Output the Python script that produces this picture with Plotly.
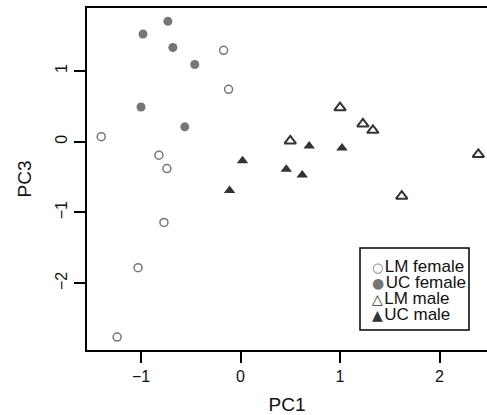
import plotly.graph_objects as go

# ---- data ----
lm_female_pc1 = [-0.17, -0.12, -1.40, -0.82, -0.74, -0.77, -1.03, -1.24]
lm_female_pc3 = [1.29, 0.74, 0.07, -0.19, -0.38, -1.14, -1.78, -2.76]
uc_female_pc1 = [-0.98, -0.73, -0.68, -0.46, -1.00, -0.56]
uc_female_pc3 = [1.52, 1.70, 1.33, 1.09, 0.49, 0.21]
lm_male_pc1 = [1.00, 1.23, 1.33, 0.50, 2.39, 1.62]
lm_male_pc3 = [0.48, 0.25, 0.16, 0.01, -0.18, -0.77]
uc_male_pc1 = [0.02, -0.11, 0.69, 1.02, 0.46, 0.62]
uc_male_pc3 = [-0.27, -0.69, -0.06, -0.09, -0.39, -0.47]

x_ticks = [-1, 0, 1, 2]
y_ticks = [-2, -1, 0, 1]
legend_labels = ["LM female", "UC female", "LM male", "UC male"]

W, H = 487, 415
ML, MR, MT, MB = 87, 0, 8, 65
PW, PH = W - ML - MR, H - MT - MB

GRAY = "#767676"
DARK = "#333333"
FONT = "Liberation Sans, Arial, Helvetica, sans-serif"

fig = go.Figure()
fig.add_trace(go.Scatter(x=lm_female_pc1, y=lm_female_pc3, mode="markers", name=legend_labels[0],
                         marker=dict(symbol="circle-open", size=8, color=GRAY, line=dict(width=1.5, color=GRAY)),
                         showlegend=False, cliponaxis=False))
fig.add_trace(go.Scatter(x=uc_female_pc1, y=uc_female_pc3, mode="markers", name=legend_labels[1],
                         marker=dict(symbol="circle", size=9, color=GRAY, line=dict(width=0)),
                         showlegend=False, cliponaxis=False))
fig.add_trace(go.Scatter(x=lm_male_pc1, y=lm_male_pc3, mode="markers", name=legend_labels[2],
                         marker=dict(symbol="triangle-up-open", size=10, color=DARK, line=dict(width=2, color=DARK)),
                         showlegend=False, cliponaxis=False))
fig.add_trace(go.Scatter(x=uc_male_pc1, y=uc_male_pc3, mode="markers", name=legend_labels[3],
                         marker=dict(symbol="triangle-up", size=10, color=DARK, line=dict(width=0)),
                         showlegend=False, cliponaxis=False))


def px(xp):
    return (xp - ML) / PW


def py(yp):
    return (H - MB - yp) / PH


# legend (R-style box)
fig.add_shape(type="rect", xref="paper", yref="paper",
              x0=px(360), x1=px(469), y0=py(330), y1=py(248),
              line=dict(color="black", width=1.5), fillcolor="white", layer="above")
sym = ["○", "●", "△", "▲"]
sym_col = [GRAY, GRAY, DARK, DARK]
sym_size = [13, 14, 14, 14]
row_y = [265.7, 281.7, 298, 314]
for i in range(4):
    txt = ('<span style="font-family:DejaVu Sans;font-size:%dpx;fill:%s">%s</span>\u200a%s'
           % (sym_size[i], sym_col[i], sym[i], legend_labels[i]))
    fig.add_annotation(xref="paper", yref="paper", x=px(371), y=py(row_y[i]),
                       text=txt, showarrow=False, xanchor="left", yanchor="middle",
                       height=16, valign="middle",
                       borderpad=0, font=dict(family=FONT, size=17, color="#111111"))

fig.update_layout(
    width=W, height=H,
    margin=dict(l=ML, r=MR, t=MT, b=MB, pad=0, autoexpand=False),
    paper_bgcolor="white", plot_bgcolor="white",
    font=dict(family=FONT, color="#111111"),
    xaxis=dict(range=[-1.543, 2.477], tickvals=x_ticks, ticks="outside", ticklen=11, tickwidth=1.5,
               tickcolor="black", showline=True, linecolor="black", linewidth=2, mirror=True,
               showgrid=False, zeroline=False, tickfont=dict(size=16), automargin=False,
               title=dict(text="PC1", font=dict(size=19), standoff=15)),
    yaxis=dict(range=[-2.942, 1.888], tickvals=y_ticks, ticks="outside", ticklen=11, tickwidth=1.5,
               tickcolor="black", showline=True, linecolor="black", linewidth=2,
               showgrid=False, zeroline=False, tickfont=dict(size=16), tickangle=-90,
               ticklabelstandoff=1, automargin=False,
               title=dict(text="PC3", font=dict(size=19), standoff=16)),
)

fig.write_html("out.html", config={"displayModeBar": False},
               post_script="document.body.style.margin='0';")
